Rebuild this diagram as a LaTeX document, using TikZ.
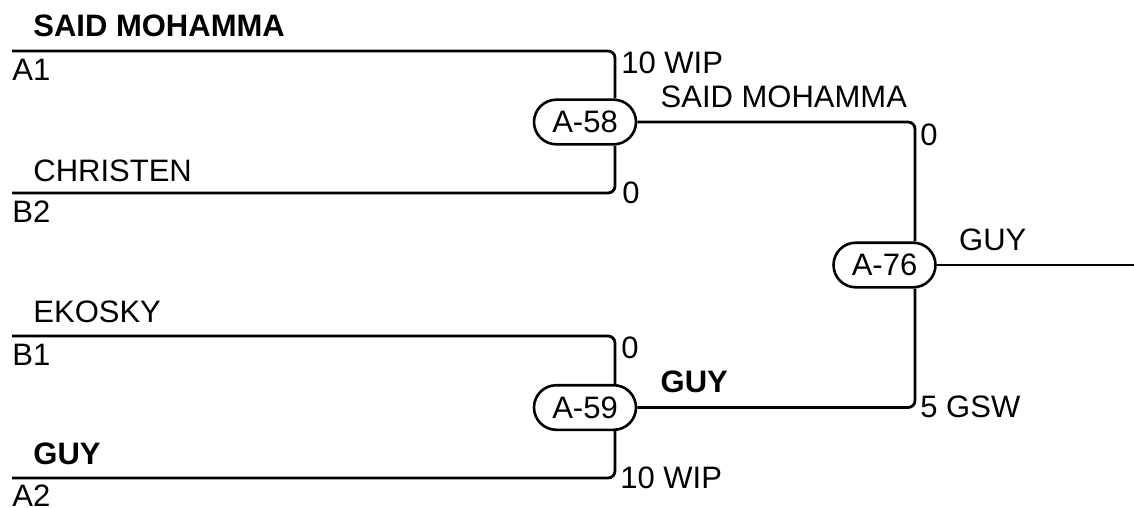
\documentclass[tikz,border=0pt]{standalone}
\usepackage{fontspec}
\setmainfont{Liberation Sans}
\usepackage{tikz}
\usetikzlibrary{shapes.misc, positioning}
\tikzset{match-line/.style={line width=1.4pt, rounded corners=3.5pt}}
\tikzset{match-node/.style={draw, rounded rectangle, line width=1.3pt, minimum width=51pt, minimum height=22.3pt, inner sep=0, font=\fontsize{15.5pt}{18pt}\selectfont}}
\tikzset{bracket-label/.style={inner sep=0, font=\fontsize{15.5pt}{18pt}\selectfont}}
\tikzset{winner-label/.style={bracket-label, font=\fontsize{15.5pt}{18pt}\selectfont\bfseries}}

\begin{document}
\begin{tikzpicture}[x=0.5pt, y=-0.5pt]
            \useasboundingbox (0,0) rectangle (1134,508);

            % entry lines
            \coordinate (a1) at (12,51);
            \coordinate (b2) at (12,193);
            \coordinate (b1) at (12,336);
            \coordinate (a2) at (12,478);
            \coordinate (final) at (1134,265);

            % matches
            \node[match-node] (m58) at (585,122) {A-58};
            \node[match-node] (m59) at (585,407.5) {A-59};
            \node[match-node] (m76) at (884.5,265) {A-76};

            % names and seeds
            \node[winner-label, above right=7pt and 10.5pt of a1] (name-a1) {SAID MOHAMMA};
            \node[bracket-label, below right=4pt and 0pt of a1] (seed-a1) {A1};
            \node[bracket-label, above right=5.5pt and 10.5pt of b2] (name-b2) {CHRISTEN};
            \node[bracket-label, below right=3.5pt and 0pt of b2] (seed-b2) {B2};
            \node[bracket-label, above right=6.5pt and 10.5pt of b1] (name-b1) {EKOSKY};
            \node[bracket-label, below right=4pt and 0pt of b1] (seed-b1) {B1};
            \node[winner-label, above right=6.5pt and 10.5pt of a2] (name-a2) {GUY};
            \node[bracket-label, below right=3.2pt and 0pt of a2] (seed-a2) {A2};

            \node[bracket-label, above right=7pt and 11.5pt of m58.east] (name-m58) {SAID MOHAMMA};
            \node[winner-label, above right=7pt and 11.5pt of m59.east] (name-m59) {GUY};
            \node[bracket-label, above right=7pt and 11pt of m76.east] (name-m76) {GUY};

            % scores
            \node[bracket-label, anchor=north west] (score-a1) at (621,51) {10 WIP};
            \node[bracket-label, anchor=west] (score-b2) at (622,193) {0};
            \node[bracket-label, anchor=north west] (score-b1) at (621,336) {0};
            \node[bracket-label, anchor=west] (score-a2) at (620,478) {10 WIP};
            \node[bracket-label, anchor=north west] (score-m58) at (920,123) {0};
            \node[bracket-label, anchor=west] (score-m59) at (920,407) {5 GSW};

            \draw[match-line] (a1) -| ([xshift=15pt]m58.north);
            \draw[match-line] (b2) -| ([xshift=15pt]m58.south);
            \draw[match-line] (b1) -| ([xshift=15pt]m59.north);
            \draw[match-line] (a2) -| ([xshift=15pt]m59.south);

            \draw[match-line] (m58.east) -| ([xshift=15.25pt]m76.north);
            \draw[match-line] (m59.east) -| ([xshift=15.25pt]m76.south);
            \draw[match-line] (m76.east) -- (final);
        \end{tikzpicture}
\end{document}
